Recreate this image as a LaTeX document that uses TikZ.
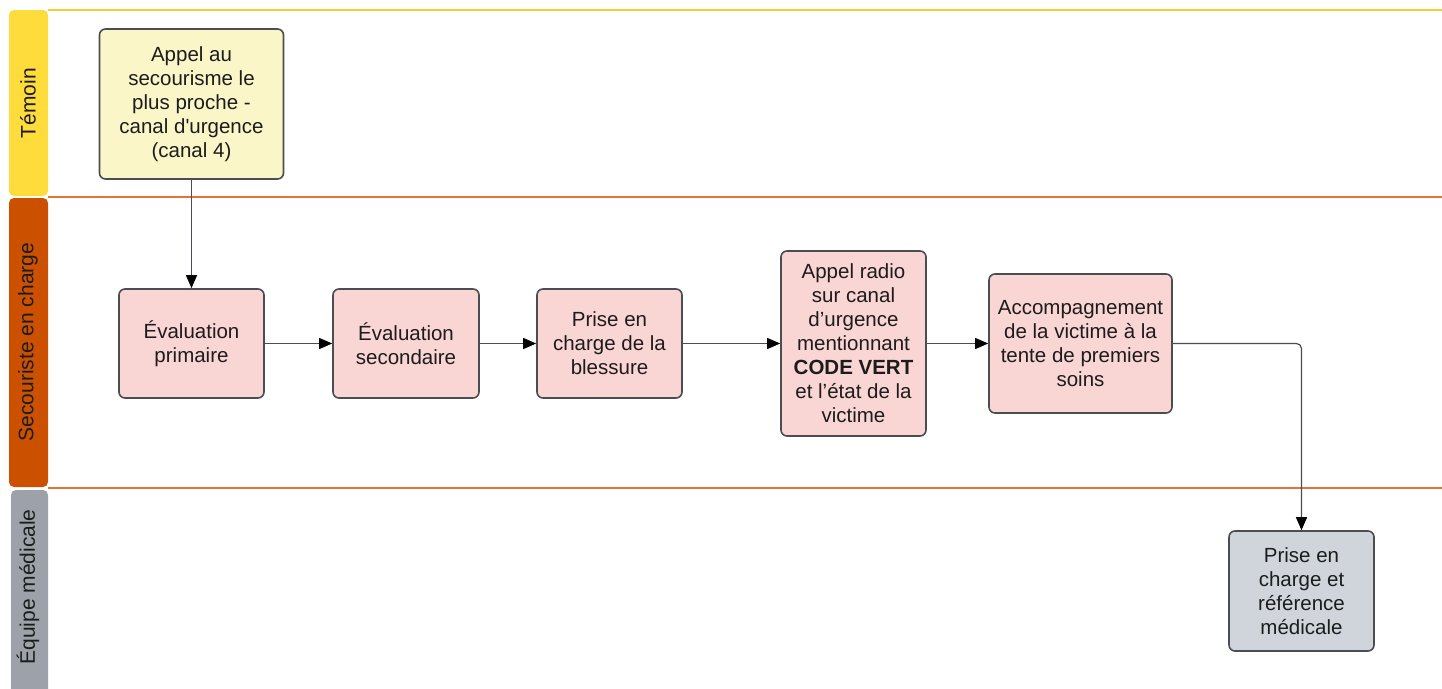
\documentclass[tikz,border=0pt]{standalone}
\usepackage{fontspec}
\setmainfont{Liberation Sans}
\usetikzlibrary{arrows.meta}
\definecolor{hdYellow}{HTML}{FDDC3C}
\definecolor{hdOrange}{HTML}{CB5100}
\definecolor{hdGray}{HTML}{9DA1A9}
\definecolor{lnYellow}{HTML}{F4CE35}
\definecolor{lnOrange}{HTML}{E3733A}
\definecolor{bxYellow}{HTML}{FAF6C8}
\definecolor{bxPink}{HTML}{F9D5D4}
\definecolor{bxGray}{HTML}{D0D4DB}
\definecolor{bxBorder}{HTML}{4A4D52}
\definecolor{txt}{HTML}{1C1C1C}
\tikzset{
  lanehead/.style={rounded corners=5pt},
  lanetext/.style={rotate=90, font=\fontsize{21}{24}\selectfont, text=txt},
  box/.style={draw=bxBorder, line width=1.6pt, rounded corners=6pt, align=center,
    font=\fontsize{20.5}{24}\selectfont, text=txt, inner sep=0pt},
  ybox/.style={box, fill=bxYellow},
  pbox/.style={box, fill=bxPink},
  gbox/.style={box, fill=bxGray},
  conn/.style={draw=bxBorder, line width=1.2pt,
    -{Triangle[length=13pt,width=11pt,color=black]}},
}
\begin{document}
\begin{tikzpicture}[x=1pt,y=-1pt]
\useasboundingbox (0,0) rectangle (1442,688);
\fill[white] (0,0) rectangle (1442,688);
% lane headers
\fill[hdYellow, lanehead] (9,10) rectangle (48,196);
\fill[hdOrange, lanehead] (9,198) rectangle (48,487);
\fill[hdGray, lanehead] (11,490) rectangle (48,700);
% lane borders
\draw[lnYellow, line width=2pt] (48,10) -- (1442,10);
\draw[lnOrange, line width=2pt] (48,197) -- (1442,197);
\draw[lnOrange, line width=2pt] (48,488) -- (1442,488);
% lane labels
\node[lanetext] (lt1) at (28,103) {Témoin};
\node[lanetext] (lt2) at (28,342) {Secouriste en charge};
\node[lanetext] (lt3) at (28,587) {Équipe médicale};
% boxes
\node[ybox, minimum width=184pt, minimum height=150pt] (b1) at (191.5,104)
  {Appel au\\secourisme le\\plus proche -\\canal d\textquotesingle urgence\\(canal 4)};
\node[pbox, minimum width=145pt, minimum height=109pt] (b2) at (191.5,343.5)
  {Évaluation\\primaire};
\node[pbox, minimum width=146pt, minimum height=109pt] (b3) at (406,343.5)
  {Évaluation\\secondaire};
\node[pbox, minimum width=145pt, minimum height=109pt] (b4) at (609.5,343.5)
  {Prise en\\charge de la\\blessure};
\node[pbox, minimum width=145pt, minimum height=185pt] (b5) at (853.5,343.5)
  {Appel radio\\sur canal\\d’urgence\\mentionnant\\\textbf{CODE VERT}\\et l’état de la\\victime};
\node[pbox, minimum width=183pt, minimum height=139pt] (b6) at (1080.5,343.5)
  {Accompagnement\\de la victime à la\\tente de premiers\\soins};
\node[gbox, minimum width=145pt, minimum height=120pt] (b7) at (1301.5,591)
  {Prise en\\charge et\\référence\\médicale};
% connectors
\draw[conn] (b1.south) -- (b2.north);
\draw[conn] (b2.east) -- (b3.west);
\draw[conn] (b3.east) -- (b4.west);
\draw[conn] (b4.east) -- (b5.west);
\draw[conn] (b5.east) -- (b6.west);
\draw[conn, rounded corners=5pt] (b6.east) -| (b7.north);
\end{tikzpicture}
\end{document}
